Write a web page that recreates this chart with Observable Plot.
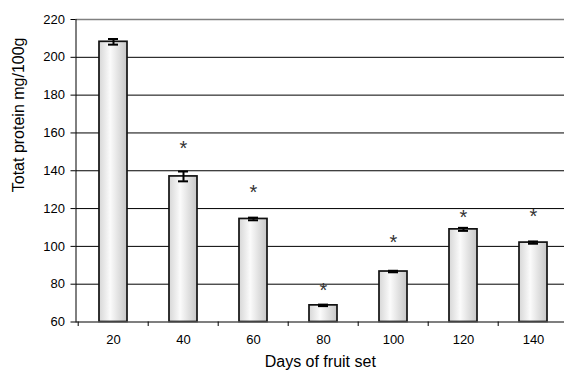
<!DOCTYPE html>
<html><head><meta charset="utf-8">
<script src="https://cdn.jsdelivr.net/npm/d3@7"></script>
<script src="https://cdn.jsdelivr.net/npm/@observablehq/plot@0.6"></script>
<style>body{margin:0;background:#fff} svg{display:block}</style>
</head><body><div id="chart"></div>
<script>
const days = [20, 40, 60, 80, 100, 120, 140];
const protein = [208.2, 137, 114.5, 68.8, 86.7, 109, 102];
const errors = [1.5, 2.6, 0.7, 0.4, 0.4, 0.8, 0.6];
const starY = [null, 154.2, 131.1, 79.3, 104.7, 117.9, 118.5];
const yTicks = [60, 80, 100, 120, 140, 160, 180, 200, 220];
const gridLines = [80, 100, 120, 140, 160, 180, 200];
const xTitle = "Days of fruit set";
const yTitle = "Totat protein mg/100g";

const data = days.map((d, i) => ({day: d, value: protein[i], err: errors[i], star: starY[i]}));
const baseline = yTicks[0];

const chart = Plot.plot({
  width: 564, height: 370,
  marginLeft: 75.5, marginRight: 0, marginTop: 19, marginBottom: 48.5,
  style: {fontFamily: "'Liberation Sans', Arial, sans-serif", fontSize: "13px", background: "#fff", color: "#000"},
  x: {type: "band", domain: days, range: [75.5, 569.7], paddingInner: 0.6, paddingOuter: 0.3, align: 0.5},
  y: {domain: [yTicks[0], yTicks[yTicks.length - 1]]},
  marks: [
    Plot.ruleY(gridLines, {stroke: "#000", strokeWidth: 1}),
    Plot.ruleY([yTicks[yTicks.length - 1]], {stroke: "#808080", strokeWidth: 1.5}),
    Plot.barY(data, {x: "day", y1: baseline, y2: "value", fill: "url(#barGrad)", stroke: "#111", strokeWidth: 1.7}),
    Plot.ruleX(data, {x: "day", y1: d => d.value - d.err, y2: d => d.value + d.err, stroke: "#000", strokeWidth: 2}),
    Plot.tickY(data, {x: "day", y: d => d.value - d.err, insetLeft: 9, insetRight: 9, stroke: "#000", strokeWidth: 2}),
    Plot.tickY(data, {x: "day", y: d => d.value + d.err, insetLeft: 9, insetRight: 9, stroke: "#000", strokeWidth: 2}),
    Plot.text(data.filter(d => d.star != null), {x: "day", y: "star", text: () => "*", fontSize: 20, fill: "#333", dy: 5}),
    Plot.ruleY([baseline], {stroke: "#555", strokeWidth: 1.5}),
    Plot.frame({anchor: "left", stroke: "#000", strokeWidth: 1}),
    Plot.axisY({ticks: yTicks, tickSize: 5, tickPadding: 6, label: null, fontSize: 13}),
    Plot.axisX({ticks: days, tickSize: 0, tickPadding: 13, label: null, fontSize: 13}),
    Plot.axisX({ticks: days, tickSize: 4.5, dx: -35.3, tickFormat: () => "", label: null, stroke: "#000"}),
    Plot.text([xTitle], {frameAnchor: "bottom", dy: 39.5, fontSize: 16, lineAnchor: "middle"}),
    Plot.text([yTitle], {frameAnchor: "left", rotate: -90, dx: -57.5, dy: 21.5, fontSize: 16, lineAnchor: "middle"})
  ]
});

const defs = d3.select(chart).insert("defs", ":first-child");
const g = defs.append("linearGradient").attr("id", "barGrad").attr("x1", "0%").attr("x2", "100%").attr("y1", "0%").attr("y2", "0%");
g.append("stop").attr("offset", "0%").attr("stop-color", "#d6d6d6");
g.append("stop").attr("offset", "40%").attr("stop-color", "#fbfbfb");
g.append("stop").attr("offset", "100%").attr("stop-color", "#c6c6c6");

document.getElementById("chart").appendChild(chart);
</script>
</body></html>
